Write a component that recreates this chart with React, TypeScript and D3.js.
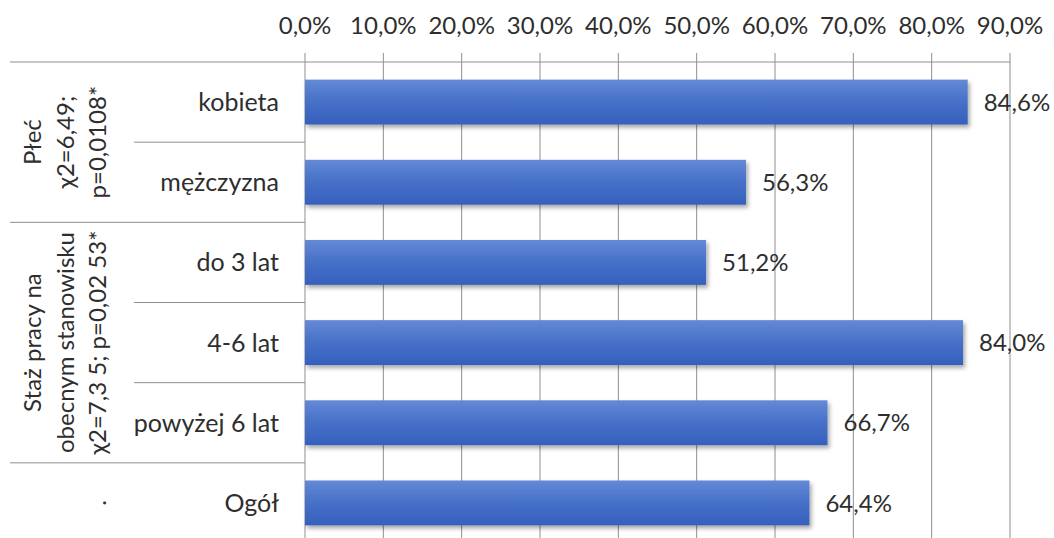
import React from "react";
import * as d3 from "d3";

const categories = ["kobieta", "mężczyzna", "do 3 lat", "4-6 lat", "powyżej 6 lat", "Ogół"];
const values = [0.846, 0.563, 0.512, 0.84, 0.667, 0.644];
const tickValues = [0, 0.1, 0.2, 0.3, 0.4, 0.5, 0.6, 0.7, 0.8, 0.9];
const groupLabels = [
  ["Płeć", "χ2=6,49;", "p=0,0108*"],
  ["Staż pracy na", "obecnym stanowisku", "χ2=7,3 5; p=0,02 53*"],
  ["."],
];
const groupStart = [0, 2, 5];
const groupEnd = [1, 4, 5];

const W = 1054;
const H = 538;
const left = 305;
const right = 1010;
const top = 62;
const bottom = 543;

const plFormat = d3.formatLocale({
  decimal: ",",
  thousands: " ",
  grouping: [3],
  currency: ["", " zł"],
}).format(".1%");

export default function App() {
  const x = d3.scaleLinear().domain([0, 0.9]).range([left, right]);
  const y = d3
    .scaleBand<string>()
    .domain(categories)
    .range([top, bottom])
    .paddingInner(0.44)
    .paddingOuter(0.22);
  const step = y.step();
  const bandTop = (i: number) => top + i * step;
  const font = "Lato, 'Open Sans', sans-serif";
  const textColor = "#2e2e2e";
  const lineColor = "#8f8f8f";
  const colX = [32, 65, 97];

  return (
    <svg
      width={W}
      height={H}
      style={{ position: "absolute", left: 0, top: 0, background: "#fff" }}
      fontFamily={font}
    >
      <defs>
        <linearGradient id="barGrad" x1="0" y1="0" x2="0" y2="1">
          <stop offset="0%" stopColor="#6489d6" />
          <stop offset="50%" stopColor="#4670c8" />
          <stop offset="100%" stopColor="#3560bd" />
        </linearGradient>
        <filter id="shadow" x="-5%" y="-20%" width="110%" height="160%">
          <feDropShadow dx="2" dy="3" stdDeviation="2" floodColor="#000" floodOpacity="0.35" />
        </filter>
      </defs>
      {tickValues.map((t) => (
        <line
          key={"g" + t}
          x1={x(t)}
          x2={x(t)}
          y1={top - 9}
          y2={H}
          stroke={lineColor}
          strokeWidth={1}
        />
      ))}
      <line x1={10} x2={x(0.9)} y1={top} y2={top} stroke={lineColor} strokeWidth={1} />
      {categories.map((c, i) => {
        if (i === 0) return null;
        const yy = bandTop(i);
        const isGroup = groupStart.includes(i);
        return (
          <line
            key={"s" + c}
            x1={isGroup ? 10 : 134}
            x2={left}
            y1={yy}
            y2={yy}
            stroke={lineColor}
            strokeWidth={1}
          />
        );
      })}
      {tickValues.map((t) => (
        <text
          key={"t" + t}
          x={x(t)}
          y={34}
          textAnchor="middle"
          fontSize={24}
          fill={textColor}
        >
          {plFormat(t)}
        </text>
      ))}
      {categories.map((c, i) => (
        <rect
          key={"b" + c}
          x={x(0)}
          y={y(c)}
          width={x(values[i]) - x(0)}
          height={y.bandwidth()}
          fill="url(#barGrad)"
          filter="url(#shadow)"
        />
      ))}
      {categories.map((c, i) => (
        <text
          key={"v" + c}
          x={x(values[i]) + 16}
          y={(y(c) as number) + y.bandwidth() / 2}
          dy="0.36em"
          fontSize={24}
          fill={textColor}
        >
          {plFormat(values[i])}
        </text>
      ))}
      {categories.map((c) => (
        <text
          key={"c" + c}
          x={279}
          y={(y(c) as number) + y.bandwidth() / 2}
          dy="0.36em"
          textAnchor="end"
          fontSize={25}
          fill={textColor}
        >
          {c}
        </text>
      ))}
      {groupLabels.map((lines, gi) => {
        const cy = (bandTop(groupStart[gi]) + bandTop(groupEnd[gi] + 1)) / 2;
        const offset = 3 - lines.length;
        return lines.map((ln, li) => {
          const cx = colX[li + offset];
          return (
            <text
              key={"gl" + gi + "-" + li}
              transform={`translate(${cx},${cy}) rotate(-90)`}
              textAnchor="middle"
              dy="0.36em"
              fontSize={24}
              fill={textColor}
            >
              {ln}
            </text>
          );
        });
      })}
    </svg>
  );
}
